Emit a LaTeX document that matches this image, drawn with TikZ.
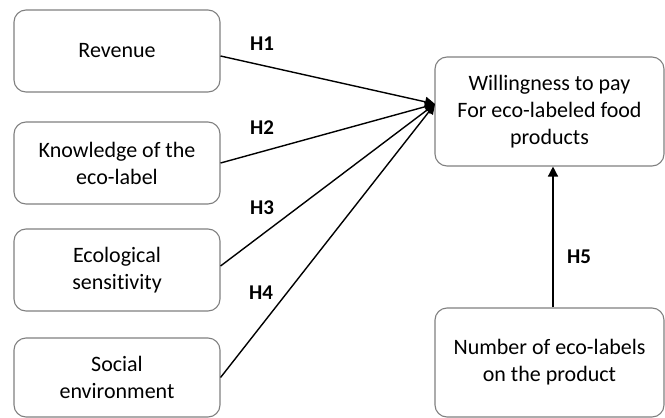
\documentclass[tikz,border=0pt]{standalone}
\usepackage{fontspec}
\setmainfont[Ligatures=NoCommon]{Carlito}
\usetikzlibrary{arrows.meta}
\begin{document}
\begin{tikzpicture}[x=1pt,y=-1pt,
  box/.style={draw=black!50,line width=1.1pt,rounded corners=12pt,align=center,
    font=\fontsize{22}{27}\selectfont,inner sep=0pt},
  lbox/.style={box,minimum width=206pt,minimum height=82pt},
  rbox/.style={box,minimum width=229pt},
  conn/.style={line width=1.4pt,-{Triangle[length=10pt,width=10pt]}},
  hlab/.style={font=\fontsize{21}{24}\selectfont\bfseries}]
\useasboundingbox (0,0) rectangle (665,418);
\node[lbox] (rev) at (117,51) {Revenue};
\node[lbox] (kno) at (117,163) {Knowledge of the\\eco-label};
\node[lbox] (eco) at (117,270) {Ecological\\sensitivity};
\node[lbox,minimum height=79pt] (soc) at (117,377.5) {Social\\environment};
\node[rbox,minimum height=109pt] (wtp) at (549.5,111.5) {Willingness to pay\\For eco-labeled food\\products};
\node[rbox,minimum height=109pt] (num) at (549.5,362.5) {Number of eco-labels\\on the product};
\coordinate (tip) at (435,104);
\draw[conn] (rev.east) ++(0,5) -- (tip);
\draw[conn] (kno.east) -- (tip);
\draw[conn] (eco.east) ++(0,-4) -- (tip);
\draw[conn] (soc.east) -- (tip);
\draw[conn] (num.north -| 553,0) -- (wtp.south -| 553,0);
\node[hlab] (h1) at (262,44) {H1};
\node[hlab] (h2) at (262,128) {H2};
\node[hlab] (h3) at (262,208) {H3};
\node[hlab] (h4) at (261,293) {H4};
\node[hlab] (h5) at (579,257) {H5};
\end{tikzpicture}
\end{document}
